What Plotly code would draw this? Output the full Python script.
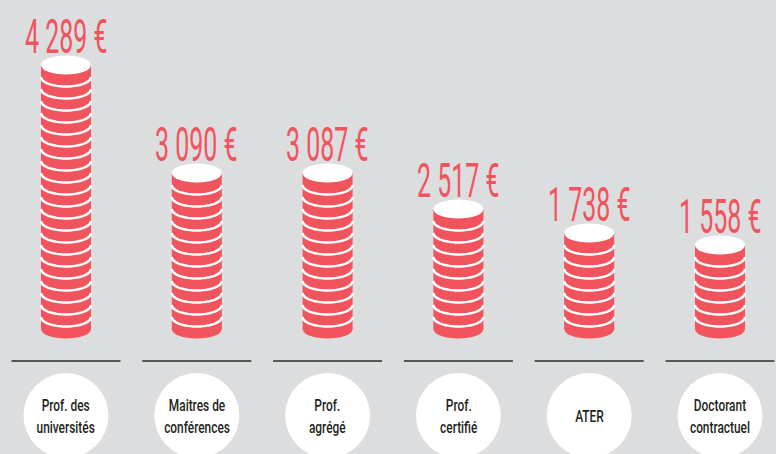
import numpy as np
import plotly.graph_objects as go

# ---- data ----
categories = ["Prof. des<br>universités", "Maitres de<br>conférences", "Prof.<br>agrégé",
              "Prof.<br>certifié", "ATER", "Doctorant<br>contractuel"]
salaries = [4289, 3090, 3087, 2517, 1738, 1558]   # € per month
coins = [22, 13, 13, 10, 8, 7]                     # coins drawn in each stack

# ---- style ----
BG = "#dcdddf"
RED = "#f1545d"
INK = "#231f20"
VALUE_FONT = "Roboto, Liberation Sans, sans-serif"
LABEL_FONT = "Roboto, Liberation Sans, sans-serif"

W, H = 776, 454
PX_PER_X = 130.8      # pixels per category step
X0_PX = 66.0          # pixel position of first category
PX_PER_Y = 12.0       # pixels per coin thickness
Y0_PX = 329           # pixel position of stack base
x_range = [(0 - X0_PX) / PX_PER_X, (W - X0_PX) / PX_PER_X]
y_range = [(Y0_PX - H) / PX_PER_Y, Y0_PX / PX_PER_Y]

HW = 25 / PX_PER_X            # coin half width (x units)
EH = 9.5 / PX_PER_Y           # ellipse half height (y units)
LINE_Y = (Y0_PX - 361) / PX_PER_Y
LINE_HW = 54.5 / PX_PER_X
CIRCLE_Y = (Y0_PX - 415.5) / PX_PER_Y
CIRCLE_R = 42.5

fig = go.Figure()
fig.add_trace(go.Scatter(x=list(range(len(categories))), y=coins, mode="markers",
                         marker=dict(opacity=0), hoverinfo="skip", showlegend=False))

shapes = []
annotations = []
t = np.linspace(np.pi, 2 * np.pi, 40)
for i, (n, v, cat) in enumerate(zip(coins, salaries, categories)):
    # body
    shapes.append(dict(type="rect", xref="x", yref="y", x0=i - HW, x1=i + HW, y0=0, y1=n,
                       fillcolor=RED, line=dict(width=0), layer="above"))
    shapes.append(dict(type="circle", xref="x", yref="y", x0=i - HW, x1=i + HW, y0=-EH, y1=EH,
                       fillcolor=RED, line=dict(width=0), layer="above"))
    # stripes between coins
    for k in range(1, n):
        xs = i + HW * np.cos(t)
        ys = k + EH * np.sin(t)
        path = "M " + " L ".join(f"{a:.4f},{b:.4f}" for a, b in zip(xs, ys))
        shapes.append(dict(type="path", xref="x", yref="y", path=path,
                           line=dict(color="white", width=2.5), layer="above"))
    # top face
    shapes.append(dict(type="circle", xref="x", yref="y", x0=i - HW, x1=i + HW, y0=n - EH, y1=n + EH,
                       fillcolor="white", line=dict(width=0), layer="above"))
    # baseline
    shapes.append(dict(type="line", xref="x", yref="y", x0=i - LINE_HW, x1=i + LINE_HW,
                       y0=LINE_Y, y1=LINE_Y, line=dict(color="#2a2a2a", width=1.5), layer="above"))
    # label disc
    shapes.append(dict(type="circle", xref="x", yref="y", xsizemode="pixel", ysizemode="pixel",
                       xanchor=i, yanchor=CIRCLE_Y, x0=-CIRCLE_R, x1=CIRCLE_R,
                       y0=-CIRCLE_R, y1=CIRCLE_R, fillcolor="white", line=dict(width=0), layer="above"))
    # value label
    annotations.append(dict(x=i, y=n + EH, xref="x", yref="y", yanchor="bottom", yshift=-11,
                            text=f"{v:,}".replace(",", " ") + " €", showarrow=False,
                            font=dict(family=VALUE_FONT, size=48, weight=400, color=RED)))
    # category label
    annotations.append(dict(x=i, y=CIRCLE_Y, xref="x", yref="y", yanchor="middle",
                            text=cat, showarrow=False,
                            font=dict(family=LABEL_FONT, size=17, weight=500, color=INK)))

fig.update_layout(
    width=W, height=H,
    margin=dict(l=0, r=0, t=0, b=0),
    paper_bgcolor=BG, plot_bgcolor=BG,
    xaxis=dict(range=x_range, visible=False, fixedrange=True),
    yaxis=dict(range=y_range, visible=False, fixedrange=True),
    shapes=shapes, annotations=annotations, showlegend=False,
)

# page tweaks: no body margin; condensed look for the (narrow-font) labels
post = """
document.documentElement.style.margin='0';
document.body.style.margin='0';
document.body.style.background='%s';
function condense(){
  document.querySelectorAll('.annotation-text').forEach(function(t){
    var fs = parseFloat(t.style.fontSize) || 12;
    var s = fs > 30 ? 0.52 : 0.7;
    t.style.transformBox = 'fill-box';
    t.style.transformOrigin = 'center';
    t.style.transform = 'scaleX(' + s + ')';
  });
}
condense();
var gd = document.getElementById('{plot_id}');
if (gd && gd.on) { gd.on('plotly_afterplot', condense); }
""" % BG

fig.write_html("out.html", post_script=post, config={"displayModeBar": False, "staticPlot": True})
